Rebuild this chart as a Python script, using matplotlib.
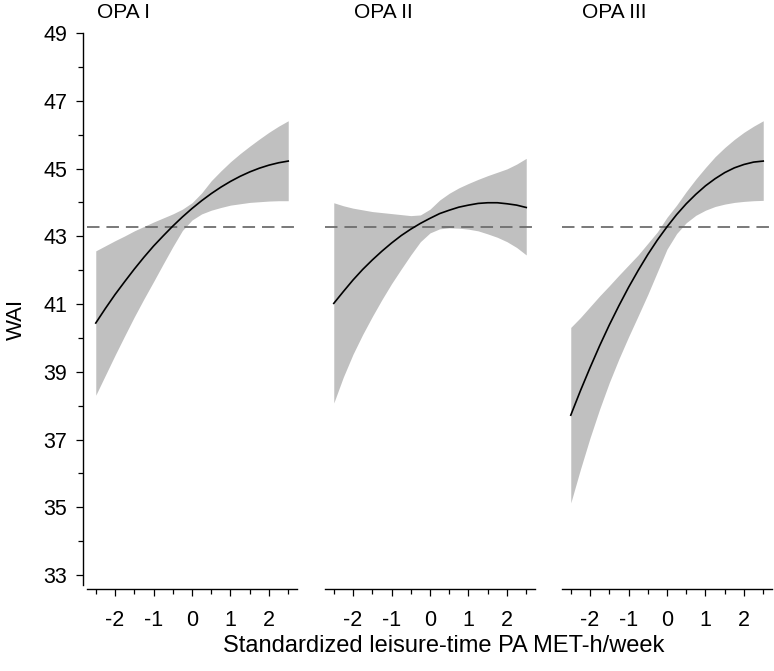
"""Three-panel spline fit of WAI against standardized leisure-time PA."""

import matplotlib
matplotlib.use('Agg')
import matplotlib.pyplot as plt
from matplotlib.ticker import MultipleLocator

plt.rcParams['font.family'] = ['Liberation Sans', 'DejaVu Sans']
plt.rcParams['lines.scale_dashes'] = False

panel_titles = ['OPA I', 'OPA II', 'OPA III']
reference_wai = 43.28

x_pa = [-2.5, -2.25, -2.0, -1.75, -1.5, -1.25, -1.0, -0.75, -0.5, -0.25, 0.0,
        0.25, 0.5, 0.75, 1.0, 1.25, 1.5, 1.75, 2.0, 2.25, 2.5]

fit_opa1 = [40.44, 40.87, 41.28, 41.66, 42.03, 42.38, 42.71, 43.01, 43.30, 43.57,
            43.82, 44.05, 44.26, 44.45, 44.62, 44.77, 44.90, 45.01, 45.10, 45.17,
            45.22]
upper_opa1 = [42.57, 42.72, 42.87, 43.01, 43.16, 43.29, 43.42, 43.54, 43.66, 43.80,
              43.99, 44.28, 44.64, 44.93, 45.20, 45.44, 45.66, 45.87, 46.07, 46.25,
              46.41]
lower_opa1 = [38.31, 38.90, 39.49, 40.06, 40.62, 41.15, 41.66, 42.18, 42.69, 43.17,
              43.48, 43.66, 43.77, 43.85, 43.92, 43.96, 44.00, 44.02, 44.04, 44.05,
              44.05]

fit_opa2 = [41.02, 41.37, 41.71, 42.02, 42.30, 42.56, 42.80, 43.02, 43.21, 43.38,
            43.53, 43.67, 43.77, 43.86, 43.92, 43.97, 43.99, 43.99, 43.96, 43.92,
            43.85]
upper_opa2 = [43.99, 43.90, 43.83, 43.78, 43.73, 43.70, 43.67, 43.64, 43.61, 43.63,
              43.80, 44.07, 44.27, 44.43, 44.56, 44.68, 44.79, 44.89, 44.99, 45.13,
              45.30]
lower_opa2 = [38.08, 38.85, 39.52, 40.10, 40.63, 41.13, 41.60, 42.03, 42.45, 42.84,
              43.10, 43.22, 43.25, 43.24, 43.21, 43.16, 43.07, 42.97, 42.84, 42.67,
              42.45]

fit_opa3 = [37.72, 38.44, 39.12, 39.77, 40.38, 40.95, 41.49, 41.99, 42.46, 42.89,
            43.28, 43.64, 43.96, 44.24, 44.49, 44.70, 44.88, 45.02, 45.12, 45.19,
            45.22]
upper_opa3 = [40.31, 40.60, 40.92, 41.24, 41.54, 41.85, 42.15, 42.45, 42.79, 43.13,
              43.56, 43.92, 44.32, 44.69, 45.03, 45.35, 45.62, 45.86, 46.07, 46.25,
              46.41]
lower_opa3 = [35.13, 36.12, 37.05, 37.90, 38.68, 39.38, 40.03, 40.65, 41.28, 41.95,
              42.62, 43.08, 43.40, 43.62, 43.77, 43.88, 43.95, 44.00, 44.03, 44.05,
              44.06]

x_ticks = [-2, -1, 0, 1, 2]
y_ticks = [33, 35, 37, 39, 41, 43, 45, 47, 49]

panels = [
    (fit_opa1, lower_opa1, upper_opa1),
    (fit_opa2, lower_opa2, upper_opa2),
    (fit_opa3, lower_opa3, upper_opa3),
]

W, H = 774, 671
fig = plt.figure(figsize=(W / 100, H / 100), dpi=100)

lefts = [87.3, 325.3, 562.3]
title_x = [97, 354, 582]
axes_w = 209.4
bottom, top = 589, 33

for index, (fit, lower, upper) in enumerate(panels):
    ax = fig.add_axes([lefts[index] / W, (H - bottom) / H,
                       axes_w / W, (bottom - top) / H])
    ax.fill_between(x_pa, lower, upper, color='#c0c0c0', linewidth=0, zorder=1)
    ax.plot(x_pa, fit, color='black', linewidth=1.2, zorder=3)
    ax.axhline(reference_wai, color='#6e6e6e', linewidth=1.3,
               dashes=(9, 5), zorder=2)

    ax.set_xlim(-2.72, 2.72)
    ax.set_ylim(32.59, 49.0)
    for side in ('top', 'right'):
        ax.spines[side].set_visible(False)
    ax.spines['bottom'].set_linewidth(1.0)
    ax.set_xticks(x_ticks)
    ax.set_xticklabels([str(t) for t in x_ticks])
    ax.xaxis.set_minor_locator(MultipleLocator(1, offset=0.5))
    ax.tick_params(axis='x', which='major', length=5, width=0.9,
                   labelsize=15.5, pad=10)
    ax.tick_params(axis='x', which='minor', length=3.5, width=0.9)

    if index == 0:
        ax.spines['left'].set_position(('outward', 3.3))
        ax.spines['left'].set_bounds(32.7, 49)
        ax.spines['left'].set_linewidth(1.0)
        ax.set_yticks(y_ticks)
        ax.set_yticklabels([str(t) for t in y_ticks])
        ax.yaxis.set_minor_locator(MultipleLocator(2, offset=0))
        ax.tick_params(axis='y', which='major', length=5, width=0.9,
                       labelsize=15.5, pad=6)
        ax.tick_params(axis='y', which='minor', length=3.5, width=0.9)
    else:
        ax.spines['left'].set_visible(False)
        ax.set_yticks([])
        ax.yaxis.set_minor_locator(plt.NullLocator())

    fig.text(title_x[index] / W, 1 - 12 / H, panel_titles[index],
             ha='left', va='center', fontsize=15)

fig.text(444 / W, 1 - 646 / H, 'Standardized leisure-time PA MET-h/week',
         ha='center', va='center', fontsize=17)
fig.text(16 / W, 1 - 319 / H, 'WAI', ha='center', va='center',
         rotation=90, fontsize=16)

plt.savefig('out.png', dpi=100)
plt.close(fig)
